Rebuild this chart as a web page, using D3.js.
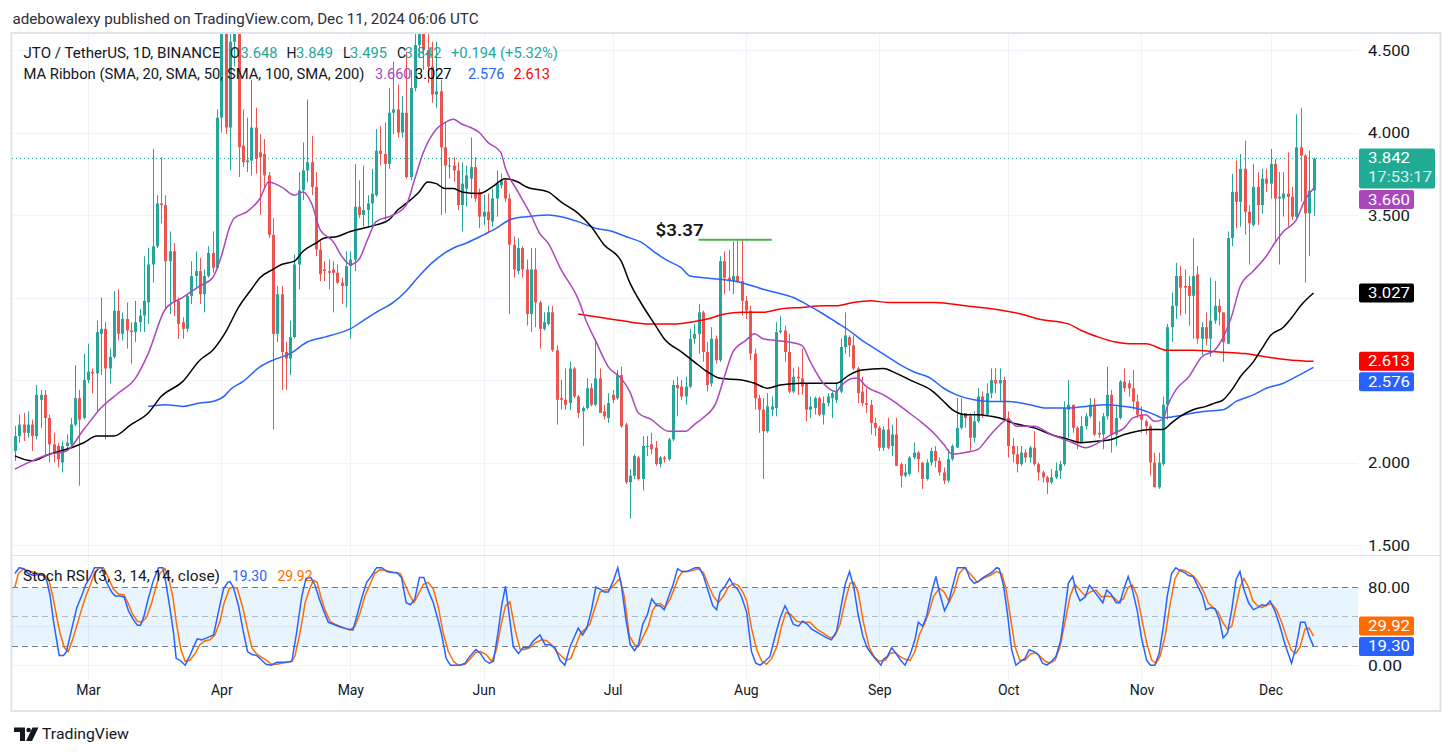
<!DOCTYPE html>
<html><head><meta charset="utf-8">
<script src="https://cdn.jsdelivr.net/npm/d3@7"></script>
<style>body{margin:0;background:#fff}svg{display:block}text{font-family:Roboto,"Noto Sans",sans-serif}</style>
</head><body><svg id="c" width="1453" height="756"></svg>
<script>
// ---------------- DATA ----------------
const startDate = "2024-02-13";
const opens = [
2.07,2.16,2.23,2.18,2.23,2.16,2.38,2.41,2.27,2.11,
2.10,2.00,2.10,2.11,2.23,2.39,2.27,2.50,2.55,2.54,
2.78,2.81,2.57,2.64,2.92,2.78,2.87,2.80,2.79,2.85,
2.89,2.97,3.20,3.31,3.57,3.56,3.22,3.28,2.98,2.85,
2.81,3.01,3.13,3.16,3.02,3.13,3.27,3.18,4.09,4.62,
4.03,4.55,4.66,3.92,3.82,3.83,4.03,3.88,3.87,3.74,
3.38,2.78,3.02,2.67,2.63,2.76,3.20,3.65,3.77,3.82,
3.67,3.29,3.17,3.16,3.17,3.15,3.09,3.07,3.19,3.23,
3.55,3.50,3.53,3.57,3.62,3.89,3.87,3.81,4.12,4.14,
4.00,4.12,3.73,4.27,4.53,4.62,4.50,4.40,4.23,4.25,
3.91,3.80,3.80,3.77,3.56,3.66,3.72,3.79,3.64,3.49,
3.52,3.46,3.60,3.68,3.71,3.60,3.32,3.16,3.30,3.17,
2.90,3.17,2.97,2.81,2.84,2.91,2.68,2.39,2.38,2.36,
2.57,2.40,2.31,2.33,2.45,2.35,2.51,2.31,2.27,2.41,
2.39,2.53,2.23,1.88,1.92,2.03,1.90,2.10,2.11,2.09,
1.99,2.03,2.02,2.14,2.47,2.46,2.40,2.46,2.75,2.78,
2.91,2.67,2.48,2.75,2.62,3.22,3.12,3.10,3.13,3.10,
2.98,2.92,2.66,2.39,2.32,2.19,2.32,2.33,2.79,2.80,
2.67,2.43,2.52,2.51,2.48,2.32,2.33,2.39,2.29,2.36,
2.39,2.38,2.43,2.70,2.76,2.71,2.57,2.43,2.36,2.35,
2.24,2.21,2.09,2.20,2.10,2.17,1.99,1.92,1.93,2.03,
2.06,2.00,1.90,2.00,2.07,2.01,1.94,1.89,2.02,2.09,
2.21,2.30,2.28,2.15,2.25,2.40,2.29,2.42,2.50,2.48,
2.50,2.27,2.10,2.05,1.99,2.06,2.03,2.09,1.99,1.94,
1.91,1.88,1.91,1.95,1.99,2.32,2.35,2.21,2.12,2.22,
2.28,2.35,2.18,2.17,2.28,2.41,2.17,2.27,2.49,2.48,
2.45,2.37,2.29,2.25,2.22,2.00,1.85,1.99,2.35,2.82,
2.95,3.13,3.07,3.07,3.01,3.14,2.75,2.82,2.75,2.86,
2.95,2.91,2.72,3.36,3.64,3.58,3.78,3.52,3.44,3.67,
3.56,3.72,3.69,3.81,3.60,3.60,3.63,3.61,3.49,3.91,
3.86,3.51,3.648];
const highs = [
2.22,2.29,2.30,2.31,2.26,2.47,2.44,2.44,2.29,2.18,
2.12,2.13,2.17,2.27,2.59,2.44,2.66,2.72,2.57,2.86,
3.00,2.85,2.69,3.04,3.05,2.91,2.97,2.85,2.98,2.93,
3.25,3.30,3.90,3.62,3.85,3.62,3.40,3.33,3.00,2.88,
3.02,3.22,3.28,3.24,3.17,3.31,3.40,4.14,4.80,4.75,
4.70,4.75,4.72,4.14,4.09,4.32,4.15,3.99,3.96,3.76,
3.48,3.07,3.07,2.73,2.86,3.26,3.76,3.94,4.20,3.98,
3.76,3.34,3.22,3.23,3.22,3.20,3.12,3.28,3.28,3.81,
3.71,3.80,3.62,3.78,4.02,4.04,4.06,4.27,4.43,4.29,
4.22,4.49,4.38,4.70,4.75,4.70,4.60,4.55,4.55,4.32,
4.06,3.85,3.85,3.82,3.82,3.80,3.97,3.85,3.66,3.62,
3.63,3.66,3.77,3.75,3.72,3.63,3.37,3.36,3.31,3.23,
3.30,3.30,2.98,2.91,2.95,2.95,2.71,2.50,2.57,2.61,
2.58,2.41,2.34,2.51,2.48,2.75,2.57,2.35,2.42,2.44,
2.56,2.58,2.24,1.96,2.05,2.04,2.16,2.16,2.18,2.13,
2.04,2.04,2.15,2.50,2.52,2.50,2.52,2.81,2.84,2.96,
2.92,2.73,2.82,2.77,3.25,3.28,3.29,3.34,3.35,3.35,
3.01,2.95,2.69,2.41,2.39,2.42,2.40,2.85,2.89,2.83,
2.78,2.57,2.58,2.69,2.48,2.40,2.40,2.40,2.40,2.42,
2.43,2.48,2.75,2.91,2.77,2.77,2.58,2.52,2.45,2.38,
2.27,2.22,2.22,2.27,2.23,2.27,2.00,1.99,2.04,2.12,
2.07,2.00,2.02,2.09,2.10,2.03,1.97,2.08,2.11,2.39,
2.39,2.30,2.30,2.31,2.45,2.43,2.48,2.57,2.57,2.57,
2.52,2.31,2.15,2.10,2.10,2.08,2.10,2.19,2.00,1.95,
1.92,1.96,2.00,2.01,2.37,2.50,2.35,2.22,2.28,2.30,
2.39,2.39,2.25,2.30,2.58,2.44,2.34,2.50,2.57,2.50,
2.56,2.41,2.34,2.26,2.23,2.06,2.06,2.40,2.84,3.03,
3.21,3.19,3.17,3.13,3.36,3.19,2.85,2.91,3.12,3.10,
2.99,2.91,3.40,3.75,3.83,3.87,3.95,3.56,3.81,3.76,
3.78,3.78,3.90,3.84,3.76,3.76,3.88,3.67,4.11,4.15,
3.87,3.89,3.849];
const lows = [
2.01,2.12,2.13,2.15,2.07,2.14,2.21,2.04,2.00,2.00,
1.97,1.94,2.08,2.10,2.22,1.86,2.26,2.48,2.42,2.31,
2.53,2.14,2.48,2.63,2.74,2.74,2.69,2.60,2.73,2.79,
2.79,2.84,3.09,3.30,3.45,2.92,2.90,2.89,2.75,2.75,
2.79,2.96,3.05,2.96,2.91,3.12,3.15,3.17,4.00,3.99,
3.77,4.40,3.73,3.79,3.76,3.74,3.75,3.50,3.67,3.36,
2.20,2.73,2.44,2.44,2.53,2.75,3.05,3.59,3.70,3.62,
3.25,3.10,3.10,3.05,2.91,3.08,2.96,2.94,2.75,3.16,
3.48,3.43,3.43,3.43,3.61,3.80,3.47,3.78,3.99,3.97,
3.97,3.72,3.71,4.25,4.45,4.38,4.30,4.18,4.15,3.50,
3.51,3.72,3.70,3.53,3.40,3.55,3.60,3.58,3.42,3.44,
3.39,3.43,3.49,3.66,3.58,2.90,3.12,3.14,3.12,2.83,
2.79,2.82,2.69,2.80,2.83,2.67,2.23,2.32,2.32,2.32,
2.39,2.27,2.10,2.32,2.34,2.34,2.30,2.26,2.24,2.36,
2.38,2.21,1.87,1.66,1.90,1.89,1.83,2.04,2.05,1.98,
1.97,2.00,2.01,2.13,2.28,2.38,2.35,2.45,2.72,2.66,
2.61,2.43,2.46,2.60,2.61,3.02,3.04,3.02,3.09,2.89,
2.87,2.62,2.32,2.18,1.90,2.18,2.28,2.28,2.78,2.61,
2.42,2.42,2.41,2.41,2.25,2.27,2.29,2.28,2.23,2.34,
2.27,2.36,2.42,2.66,2.64,2.56,2.36,2.34,2.30,2.17,
2.16,2.07,2.07,2.08,2.04,1.98,1.85,1.91,1.92,2.02,
1.94,1.84,1.89,1.98,1.97,1.92,1.87,1.88,2.01,2.09,
2.20,2.21,2.07,2.12,2.24,2.27,2.28,2.39,2.42,2.37,
2.25,2.03,2.00,1.94,1.98,2.00,2.00,1.98,1.89,1.88,
1.81,1.87,1.90,1.90,1.98,2.15,2.18,2.08,2.12,2.20,
2.27,2.16,2.15,2.08,2.26,2.06,2.10,2.26,2.43,2.40,
2.32,2.27,2.18,2.17,1.92,1.85,1.84,1.98,2.26,2.73,
2.87,2.89,2.90,2.83,2.75,2.72,2.65,2.71,2.64,2.84,
2.83,2.61,2.72,3.31,3.42,3.43,3.38,3.20,3.43,3.44,
3.51,3.64,3.60,3.34,3.20,3.49,3.43,3.47,3.48,3.58,
3.09,3.25,3.495];
const closes = [
2.16,2.23,2.18,2.23,2.16,2.41,2.41,2.27,2.11,2.06,
2.02,2.10,2.12,2.23,2.39,2.26,2.50,2.55,2.54,2.79,
2.81,2.57,2.64,2.92,2.78,2.87,2.80,2.79,2.85,2.89,
2.98,3.20,3.31,3.57,3.56,3.22,3.28,2.98,2.84,2.81,
3.01,3.13,3.16,3.02,3.13,3.27,3.18,4.09,4.62,4.03,
4.55,4.66,3.91,3.82,3.83,4.03,3.84,3.85,3.74,3.38,
2.78,3.02,2.67,2.63,2.76,3.20,3.65,3.77,3.82,3.67,
3.29,3.14,3.16,3.15,3.15,3.09,3.07,3.19,3.23,3.55,
3.50,3.53,3.57,3.63,3.89,3.87,3.81,4.12,4.14,4.00,
4.12,3.73,4.27,4.53,4.62,4.50,4.40,4.23,4.25,3.91,
3.80,3.80,3.77,3.56,3.69,3.74,3.79,3.60,3.49,3.52,
3.47,3.60,3.69,3.71,3.60,3.32,3.17,3.30,3.17,2.90,
3.17,2.97,2.81,2.85,2.91,2.68,2.38,2.38,2.35,2.57,
2.40,2.30,2.33,2.45,2.35,2.51,2.30,2.28,2.36,2.38,
2.53,2.22,1.88,1.92,2.04,1.90,2.10,2.10,2.08,1.99,
2.03,2.02,2.14,2.47,2.45,2.40,2.46,2.75,2.78,2.91,
2.67,2.47,2.75,2.62,3.22,3.12,3.10,3.13,3.10,2.98,
2.92,2.66,2.39,2.32,2.19,2.34,2.34,2.79,2.80,2.67,
2.43,2.52,2.51,2.46,2.32,2.34,2.39,2.29,2.36,2.40,
2.42,2.43,2.70,2.77,2.71,2.57,2.42,2.36,2.35,2.24,
2.21,2.09,2.20,2.09,2.17,1.98,1.92,1.94,2.03,2.06,
2.02,1.90,2.00,2.07,2.01,1.94,1.89,2.02,2.10,2.21,
2.30,2.27,2.15,2.25,2.40,2.29,2.42,2.50,2.48,2.50,
2.26,2.10,2.05,1.99,2.06,2.03,2.09,1.99,1.94,1.91,
1.88,1.91,1.95,1.99,2.33,2.35,2.21,2.12,2.22,2.28,
2.35,2.17,2.17,2.28,2.41,2.17,2.27,2.49,2.45,2.45,
2.37,2.29,2.26,2.22,2.00,1.85,2.00,2.35,2.82,2.95,
3.13,3.06,3.06,3.01,3.13,2.75,2.82,2.75,2.86,2.95,
2.91,2.73,3.36,3.64,3.58,3.78,3.52,3.45,3.67,3.56,
3.72,3.69,3.81,3.60,3.61,3.63,3.61,3.49,3.91,3.86,
3.51,3.648,3.842];

// moving averages: [day index from startDate, value]
const sma20 = [[0,1.96],[4,2.01],[8,2.05],[12,2.07],[16,2.20],[20,2.33],[24,2.42],[28,2.51],[31,2.66],[35,2.93],[39,3.00],[43,3.07],[46,3.12],[48,3.25],[50,3.43],[51,3.48],[54,3.52],[57,3.60],[59,3.70],[62,3.67],[65,3.62],[67,3.64],[69,3.57],[71,3.41],[74,3.34],[76,3.25],[78,3.20],[80,3.23],[82,3.35],[84,3.46],[88,3.50],[91,3.56],[93,3.72],[95,3.88],[98,4.02],[100,4.06],[102,4.08],[104,4.05],[106,4.03],[108,4.00],[110,3.94],[113,3.88],[114,3.79],[117,3.64],[120,3.50],[122,3.39],[124,3.33],[127,3.17],[131,2.99],[133,2.85],[135,2.74],[138,2.58],[141,2.51],[143,2.43],[145,2.30],[148,2.26],[152,2.19],[156,2.19],[158,2.23],[160,2.27],[163,2.36],[165,2.52],[167,2.67],[170,2.74],[172,2.78],[174,2.75],[177,2.74],[180,2.73],[183,2.71],[185,2.61],[188,2.48],[191,2.43],[192,2.46],[195,2.51],[196,2.51],[198,2.46],[202,2.41],[205,2.36],[208,2.30],[211,2.24],[214,2.17],[216,2.11],[218,2.05],[221,2.06],[224,2.08],[226,2.14],[228,2.20],[231,2.26],[233,2.22],[237,2.22],[241,2.17],[244,2.14],[246,2.12],[249,2.09],[252,2.12],[255,2.17],[258,2.21],[260,2.27],[263,2.29],[265,2.25],[267,2.26],[268,2.34],[270,2.44],[273,2.52],[276,2.64],[279,2.68],[281,2.76],[283,2.89],[285,3.07],[288,3.16],[291,3.25],[293,3.33],[295,3.40],[298,3.47],[300,3.59],[302,3.66]];
const sma50 = [[0,2.04],[4,2.01],[8,2.05],[12,2.08],[16,2.12],[19,2.16],[23,2.16],[27,2.23],[31,2.30],[34,2.40],[39,2.49],[43,2.62],[46,2.68],[49,2.79],[52,2.94],[55,3.05],[57,3.12],[60,3.17],[62,3.20],[65,3.22],[67,3.28],[70,3.33],[72,3.36],[75,3.37],[78,3.40],[81,3.42],[84,3.44],[87,3.47],[89,3.53],[91,3.57],[94,3.64],[96,3.70],[98,3.69],[100,3.66],[102,3.66],[104,3.64],[108,3.63],[111,3.67],[114,3.72],[117,3.70],[119,3.67],[124,3.64],[127,3.58],[131,3.51],[134,3.43],[137,3.32],[141,3.22],[143,3.09],[146,2.95],[149,2.83],[151,2.75],[155,2.67],[158,2.61],[161,2.55],[164,2.51],[169,2.50],[172,2.48],[175,2.45],[178,2.47],[183,2.48],[188,2.48],[191,2.48],[194,2.53],[197,2.56],[202,2.57],[205,2.54],[209,2.49],[213,2.44],[216,2.37],[218,2.32],[221,2.29],[224,2.29],[227,2.28],[229,2.27],[232,2.24],[237,2.21],[241,2.17],[245,2.14],[248,2.12],[252,2.13],[255,2.14],[258,2.17],[261,2.19],[264,2.20],[267,2.20],[269,2.24],[271,2.28],[274,2.32],[277,2.34],[279,2.36],[281,2.38],[283,2.44],[285,2.52],[288,2.61],[290,2.69],[292,2.77],[295,2.82],[297,2.88],[299,2.95],[302,3.027]];
const sma100 = [[31,2.34],[35,2.35],[39,2.34],[43,2.36],[46,2.37],[49,2.41],[50,2.44],[53,2.49],[57,2.58],[60,2.62],[64,2.66],[68,2.73],[72,2.76],[76,2.79],[78,2.81],[81,2.86],[84,2.91],[88,2.97],[91,3.04],[94,3.13],[97,3.21],[100,3.27],[102,3.30],[105,3.33],[109,3.38],[112,3.42],[115,3.47],[119,3.49],[124,3.50],[127,3.49],[131,3.46],[135,3.42],[139,3.40],[142,3.37],[146,3.33],[149,3.27],[152,3.22],[155,3.18],[157,3.13],[160,3.12],[164,3.11],[169,3.09],[174,3.05],[177,3.03],[181,3.00],[184,2.96],[188,2.90],[191,2.85],[194,2.80],[197,2.74],[200,2.69],[203,2.64],[206,2.59],[209,2.55],[213,2.51],[216,2.45],[219,2.41],[223,2.38],[227,2.37],[231,2.37],[236,2.35],[240,2.33],[245,2.33],[249,2.34],[254,2.35],[258,2.34],[262,2.32],[265,2.29],[267,2.27],[270,2.28],[274,2.30],[277,2.31],[281,2.32],[284,2.37],[288,2.41],[291,2.45],[295,2.48],[298,2.52],[302,2.576]];
const sma200 = [[131,2.90],[136,2.88],[141,2.86],[147,2.84],[154,2.84],[157,2.85],[161,2.87],[165,2.90],[169,2.91],[174,2.91],[178,2.93],[183,2.94],[188,2.95],[191,2.95],[195,2.97],[199,2.98],[203,2.97],[206,2.97],[214,2.97],[221,2.95],[230,2.92],[234,2.90],[238,2.87],[245,2.84],[248,2.80],[252,2.76],[256,2.73],[259,2.72],[263,2.72],[268,2.68],[274,2.68],[280,2.67],[286,2.66],[291,2.64],[297,2.62],[302,2.613]];

// Stoch RSI %K and %D: [day index, value]
const stochK = [[0,94],[1,100],[2,99],[3.1,94],[4.3,92],[5.5,93],[6.6,92],[7.4,87],[8.2,71],[8.9,47],[9.7,26],[10.3,10],[11.3,10],[12,14],[13.2,37],[14.4,59],[15.5,71],[16.5,83],[17.5,90],[18.5,100],[19.4,100],[20.2,100],[21.3,85],[22.5,75],[23.3,71],[24.4,71],[25.4,70],[26.4,56],[27.5,47],[28.5,41],[29.2,41],[30,50],[31,68],[32.2,87],[33.4,100],[34.4,100],[35.1,85],[36.1,57],[36.9,33],[37.5,7],[38.4,5],[39.6,0],[40.6,9],[41.5,18],[42.4,27],[43.4,26],[44.6,28],[46.2,31],[47.3,54],[48.5,78],[49.5,85],[50,86],[50.8,80],[52,61],[53,37],[54.1,14],[55.1,11],[56.2,10],[57.4,5],[58.4,1],[59.7,0],[60.9,3],[62,3],[63.2,3],[64.4,4],[65.5,33],[66.7,70],[67.7,89],[68.8,90],[69.8,82],[70.8,68],[71.7,57],[72.9,44],[74.1,42],[75.2,40],[76.4,38],[77.5,37],[78.6,36],[79.5,50],[80.6,68],[81.8,85],[83,92],[84.1,100],[85.3,100],[86.5,96],[87.6,95],[88.8,95],[89.9,90],[91,64],[92,62],[93,68],[94.1,90],[95.1,90],[96.1,77],[97.3,64],[98.5,45],[99.3,30],[100.3,7],[101.3,0],[102.4,0],[103.5,0],[104.7,2],[105.8,9],[107.2,16],[108.3,12],[109.3,5],[110.3,2],[111.3,4],[112.4,35],[113.2,61],[114.1,81],[115,50],[115.9,19],[117.1,12],[118.2,18],[119.4,18],[120.6,25],[122.1,31],[123.3,21],[124.4,21],[125.6,18],[126.8,5],[127.9,0],[129.1,19],[130.3,31],[131,38],[132,31],[133,38],[134.1,57],[135.1,80],[136.1,78],[137,75],[138,75],[139.2,87],[140.2,100],[141.1,80],[142.1,47],[143.1,21],[144.1,15],[145,21],[146,42],[147.1,52],[148.1,68],[149.3,61],[150,61],[151,57],[152,70],[153.1,83],[154.1,99],[155.1,96],[156.2,96],[157.2,98],[158.2,100],[159.2,100],[160.1,92],[161.3,75],[162.3,61],[163.2,57],[164,75],[165,80],[166.2,89],[167.1,82],[168.1,78],[169,70],[170.2,54],[171.3,14],[172.3,2],[173.3,0],[174.4,4],[175.6,9],[176.8,30],[178,49],[179.1,61],[180.1,52],[181,42],[182.2,40],[183.2,45],[184.3,42],[185.3,37],[186.5,34],[187.6,31],[188.8,28],[189.9,26],[191.1,35],[192,57],[193.1,83],[194.1,96],[195.1,80],[196.1,52],[197.2,30],[198.2,18],[199.3,11],[200.4,5],[201.4,0],[202,6],[202.9,9],[203.9,18],[204.9,12],[206,5],[207,0],[208.2,11],[209.3,26],[210.1,44],[211.1,40],[212,50],[213.2,75],[214.2,91],[215.1,73],[216.2,56],[217.1,64],[218.2,83],[219.2,100],[220.2,100],[221.1,100],[222.1,89],[223.1,84],[224.1,86],[225.2,90],[226.4,93],[227.4,96],[228.3,100],[228.9,99],[229.9,82],[230.8,54],[231.8,16],[232.8,0],[233.9,4],[234.9,7],[235.9,16],[237,14],[238,11],[239,2],[240,0],[241.1,4],[242.1,9],[243.2,25],[244.2,57],[245,84],[246,91],[246.8,75],[247.7,66],[248.9,70],[249.9,82],[250.8,77],[252,70],[253,64],[253.9,77],[254.9,73],[256.1,64],[257,64],[257.9,78],[258.9,91],[259.9,77],[261,56],[262,28],[263.2,5],[264.1,0],[265.1,0],[266.1,12],[267.1,40],[268,71],[269,94],[270,100],[270.9,97],[272.1,95],[272.9,92],[274,91],[275.2,80],[276.2,71],[277,57],[278.1,59],[279.1,58],[280.1,47],[281,28],[282,33],[283,57],[284,88],[284.9,96],[285.8,78],[286.9,64],[288,57],[289,59],[290,62],[291,61],[291.9,66],[293,56],[294.2,40],[295.4,21],[296.9,2],[297.9,18],[299,44],[300,44],[301,30],[302,19.30]];
const stochD = [[0,80],[0.8,94],[2,99],[3.1,97],[4.3,95],[5.5,94],[6.6,93],[7.8,89],[8.8,71],[9.7,50],[10.5,33],[11.5,18],[12.4,14],[13.4,26],[14.5,42],[15.5,57],[16.5,71],[17.6,83],[18.6,96],[19.8,100],[20.6,100],[21.7,90],[22.9,78],[24.1,73],[25.4,72],[26.4,63],[27.4,52],[28.5,45],[29.5,44],[30.6,49],[31.8,64],[32.8,80],[33.7,94],[34.9,99],[35.7,90],[36.7,71],[37.6,42],[38.6,16],[39.6,4],[40.7,5],[41.9,12],[43,21],[44.2,25],[45.4,26],[46.5,31],[47.7,45],[48.6,63],[49.9,79],[50.8,80],[51.7,79],[53,59],[54.1,37],[55.1,18],[56.1,12],[57.4,8],[58.5,5],[59.7,1],[60.9,1],[62,2],[63.2,3],[64.4,4],[65.1,9],[66.3,33],[67.5,64],[68.5,78],[69.4,87],[70.3,85],[71.1,71],[72.1,57],[73.3,45],[74.4,42],[75.6,40],[76.8,38],[77.9,36],[79.1,40],[80.3,54],[81.4,71],[82.6,83],[83.7,94],[84.9,98],[86.5,97],[88,95],[89.6,94],[90.7,83],[91.9,71],[92.8,64],[94.1,75],[95,83],[96.1,85],[97.3,78],[98.5,59],[99.6,33],[100.8,14],[102,4],[103.1,0],[104.7,1],[105.8,6],[107.2,13],[108.3,14],[109.6,11],[110.9,4],[112,16],[113,40],[114.1,61],[115.1,65],[116.3,37],[117.5,16],[118.6,16],[119.8,18],[121,23],[122.5,26],[123.7,25],[124.8,21],[126,14],[127.2,9],[128.2,5],[129.3,7],[130.5,21],[131.6,33],[132.6,37],[133.7,42],[134.9,59],[136.1,75],[137.2,77],[138.4,78],[139.5,83],[140.7,89],[141.7,71],[142.9,30],[144.1,21],[145,19],[146.2,30],[147.3,40],[148.3,56],[149.3,63],[150.2,63],[151.2,59],[152.4,68],[153.3,78],[154.3,90],[155.3,96],[156.4,96],[157.6,97],[158.9,99],[160.1,95],[161.3,82],[162.4,71],[163.6,64],[164.8,71],[165.9,80],[167.1,84],[168.2,82],[169.3,75],[170.2,66],[171.3,38],[172.5,16],[173.7,4],[174.8,1],[176,7],[177.2,19],[178.3,40],[179.3,54],[180.4,52],[181.8,45],[183.4,44],[184.9,44],[186.5,37],[188,33],[189.6,28],[190.7,30],[191.9,42],[193,64],[194.2,84],[195.1,85],[196.1,75],[197.3,45],[198.7,18],[199.8,9],[201,4],[202.4,5],[203.5,12],[204.7,13],[205.8,9],[207,6],[208.2,5],[209.3,14],[210.3,31],[211.7,44],[212.7,56],[213.6,70],[215,79],[216.1,75],[217.3,65],[218.4,75],[219.6,94],[220.8,100],[222.1,94],[223.8,85],[225.2,89],[226.8,92],[228.3,96],[229.5,94],[230.5,78],[231.6,47],[232.6,19],[233.7,5],[234.9,5],[236.1,11],[237.2,13],[238.4,9],[239.6,4],[240.7,2],[241.9,5],[243,18],[244.2,44],[245.4,71],[246.5,83],[247.7,77],[248.9,71],[250,75],[251.4,77],[252.7,70],[253.9,71],[255.4,70],[256.6,65],[257.8,68],[258.9,80],[259.9,82],[261,71],[262,49],[263.2,23],[264.4,5],[265.4,2],[266.3,9],[267.5,30],[268.6,61],[269.8,89],[271,98],[272.1,97],[273.3,94],[274.4,90],[275.4,84],[276.5,75],[277.5,64],[278.7,59],[279.9,54],[280.9,44],[282,37],[283,40],[284,61],[284.9,80],[285.8,89],[286.9,80],[287.9,66],[289,61],[290,59],[291.1,62],[292.3,63],[293.4,57],[294.6,44],[295.8,28],[296.9,15],[297.9,12],[298.9,19],[300,37],[301,38],[302,29.92]];

const priceTicks = [1.5, 2.0, 2.5, 3.0, 3.5, 4.0, 4.5];
const rsiTicks = [0, 80];
const rsiGrid = [0, 40];
const rsiBands = [80, 50, 20];
const maLast = [3.660, 3.027, 2.576, 2.613];
const lastPrice = 3.842;
const countdown = "17:53:17";
const ohlcLabels = ["O", "H", "L", "C"];
const ohlcValues = ["3.648", "3.849", "3.495", "3.842"];
const changeText = "+0.194 (+5.32%)";
const stochLast = [19.30, 29.92];
const annotation = {text: "$3.37", price: 3.35, from: 159, to: 176};

// ---------------- DRAW ----------------
const svg = d3.select("#c");
const DAY = 86400000;
const t0 = new Date(startDate + "T00:00:00Z");
const dayAt = i => new Date(t0.getTime() + i * DAY);
const N = closes.length;
const candles = closes.map((c, i) => ({date: dayAt(i), o: opens[i], h: highs[i], l: lows[i], c}));

const PL = 12, PR = 1358, PT = 34, PB = 554, RT = 556, RB = 680;
const x = d3.scaleUtc().domain([dayAt(0), dayAt(N - 1)]).range([14.9, 1313.5]);
const y = d3.scaleLinear().domain([1.5, 4.5]).range([545, 50]);
const yr = d3.scaleLinear().domain([0, 100]).range([665.2, 567.7]);

const UP = "#26a69a", DN = "#ef5350", TXT = "#131722", GRID = "#f0f3fa", BORDER = "#e0e3eb";
const MAC = ["#ab47bc", "#000000", "#2962ff", "#ff0000"];
const KC = "#2962ff", DC = "#ff6d00";

const defs = svg.append("defs");
defs.append("clipPath").attr("id", "clipP").append("rect").attr("x", PL).attr("y", PT).attr("width", PR - PL).attr("height", PB - PT);
defs.append("clipPath").attr("id", "clipR").append("rect").attr("x", PL).attr("y", RT).attr("width", PR - PL).attr("height", RB - RT);

function txt(g, xx, yy, s, o = {}) {
  const t = g.append("text").attr("x", xx).attr("y", yy).text(s)
    .attr("font-size", o.size || 14).attr("fill", o.fill || TXT)
    .attr("dominant-baseline", "central").attr("text-anchor", o.anchor || "start");
  if (o.weight) t.attr("font-weight", o.weight);
  if (o.len) t.attr("textLength", o.len).attr("lengthAdjust", "spacingAndGlyphs");
  return t;
}

// right-side value labels (computed first so covered axis ticks can be hidden, like TradingView)
function placeLabels(items, dir) {
  items.sort((a, b) => a.c - b.c);
  items.forEach(it => { it.top = it.c - it.off; });
  if (dir > 0) {
    for (let i = 1; i < items.length; i++) {
      const p = items[i - 1];
      if (items[i].top < p.top + p.h + 1.5) items[i].top = p.top + p.h + 1.5;
    }
  } else {
    for (let i = items.length - 2; i >= 0; i--) {
      const n = items[i + 1];
      if (items[i].top + items[i].h > n.top - 1.5) items[i].top = n.top - 1.5 - items[i].h;
    }
  }
  return items;
}
const priceLabels = placeLabels([
  {c: y(lastPrice), off: 10, h: 40, w: 76, fill: "#22ab94", lines: [d3.format(".3f")(lastPrice), countdown]},
  ...maLast.map((v, i) => ({c: y(v), off: 9.5, h: 19, w: 55, fill: MAC[i], lines: [d3.format(".3f")(v)]}))
], 1);
const rsiLabels = placeLabels([
  {c: yr(stochLast[0]), off: 9.5, h: 19, w: 55, fill: KC, lines: [d3.format(".2f")(stochLast[0])]},
  {c: yr(stochLast[1]), off: 9.5, h: 19, w: 55, fill: DC, lines: [d3.format(".2f")(stochLast[1])]}
], -1);
const covered = (py, labs) => labs.some(l => py > l.top - 3 && py < l.top + l.h + 3);
const shownPriceTicks = priceTicks.filter(t => !covered(y(t), priceLabels));
const shownRsiTicks = rsiTicks.filter(t => !covered(yr(t), rsiLabels));

// header
txt(svg, 12.5, 19, "adebowalexy published on TradingView.com, Dec 11, 2024 06:06 UTC", {size: 14, fill: "#2a2e39", len: 466});

// frame
svg.append("rect").attr("x", 11.5).attr("y", 33).attr("width", 1429).attr("height", 678).attr("fill", "none").attr("stroke", BORDER).attr("stroke-width", 2);

// grids
const months = x.ticks(d3.utcMonth.every(1));
svg.append("g").selectAll("line").data(months).join("line")
  .attr("x1", d => Math.round(x(d)) + 0.5).attr("x2", d => Math.round(x(d)) + 0.5)
  .attr("y1", PT).attr("y2", RB).attr("stroke", GRID);
svg.append("g").selectAll("line").data(priceTicks).join("line")
  .attr("x1", PL).attr("x2", PR).attr("y1", d => Math.round(y(d)) + 0.5).attr("y2", d => Math.round(y(d)) + 0.5).attr("stroke", GRID);
svg.append("g").selectAll("line").data(rsiGrid).join("line")
  .attr("x1", PL).attr("x2", PR).attr("y1", d => Math.round(yr(d)) + 0.5).attr("y2", d => Math.round(yr(d)) + 0.5).attr("stroke", GRID);

// pane separator
svg.append("line").attr("x1", PL).attr("x2", 1440).attr("y1", 555.5).attr("y2", 555.5).attr("stroke", BORDER);

// RSI band
svg.append("rect").attr("x", PL).attr("width", PR - PL).attr("y", yr(80)).attr("height", yr(20) - yr(80)).attr("fill", "rgba(33,150,243,0.1)");
svg.append("g").selectAll("line").data(rsiBands).join("line")
  .attr("x1", PL).attr("x2", PR).attr("y1", d => Math.round(yr(d)) + 0.5).attr("y2", d => Math.round(yr(d)) + 0.5)
  .attr("stroke", d => d === 50 ? "rgba(120,123,134,0.5)" : "#787b86").attr("stroke-dasharray", "6,4");

// current price dotted line
svg.append("line").attr("x1", PL).attr("x2", PR).attr("y1", y(lastPrice)).attr("y2", y(lastPrice))
  .attr("stroke", UP).attr("stroke-dasharray", "1,3");

// candles
const cg = svg.append("g").attr("clip-path", "url(#clipP)");
const cx = d => Math.round(x(d.date));
const col = d => d.c >= d.o ? UP : DN;
cg.append("g").selectAll("line").data(candles).join("line")
  .attr("x1", d => cx(d) + 0.5).attr("x2", d => cx(d) + 0.5)
  .attr("y1", d => y(Math.max(d.h, d.o, d.c))).attr("y2", d => y(Math.min(d.l, d.o, d.c)))
  .attr("stroke", col).attr("stroke-width", 1);
cg.append("g").selectAll("rect").data(candles).join("rect")
  .attr("x", d => cx(d) - 1).attr("width", 3)
  .attr("y", d => y(Math.max(d.o, d.c)))
  .attr("height", d => Math.max(1, y(Math.min(d.o, d.c)) - y(Math.max(d.o, d.c))))
  .attr("fill", col);

// MA lines
const maLine = d3.line().x(d => x(dayAt(d[0]))).y(d => y(d[1])).curve(d3.curveMonotoneX);
[sma200, sma100, sma50, sma20].forEach((s, k) => {
  cg.append("path").attr("d", maLine(s)).attr("fill", "none").attr("stroke", MAC[3 - k]).attr("stroke-width", 1.5);
});

// annotation
const ay = y(annotation.price);
svg.append("line").attr("x1", x(dayAt(annotation.from))).attr("x2", x(dayAt(annotation.to)))
  .attr("y1", ay).attr("y2", ay).attr("stroke", "#4caf50").attr("stroke-width", 2);
svg.append("text").attr("x", x(dayAt(annotation.from)) + 5).attr("y", ay - 4).attr("text-anchor", "end")
  .attr("font-size", 17).attr("font-weight", 600).attr("fill", TXT).attr("textLength", 48).attr("lengthAdjust", "spacingAndGlyphs")
  .text(annotation.text);

// stoch RSI lines
const rg = svg.append("g").attr("clip-path", "url(#clipR)");
const rLine = d3.line().x(d => x(dayAt(d[0]))).y(d => yr(d[1]));
rg.append("path").attr("d", rLine(stochD)).attr("fill", "none").attr("stroke", DC).attr("stroke-width", 1.5);
rg.append("path").attr("d", rLine(stochK)).attr("fill", "none").attr("stroke", KC).attr("stroke-width", 1.5);

// legends
const lg = svg.append("g");
txt(lg, 23.5, 53, "JTO / TetherUS, 1D, BINANCE", {len: 197});
const ohlcX = [[230, 240.5], [286.5, 296], [343, 350], [397, 404.5]];
ohlcLabels.forEach((l, i) => {
  txt(lg, ohlcX[i][0], 53, l);
  txt(lg, ohlcX[i][1], 53, ohlcValues[i], {fill: UP, len: 37});
});
txt(lg, 451, 53, changeText, {fill: UP, len: 107});
txt(lg, 23.5, 74, "MA Ribbon (SMA, 20, SMA, 50, SMA, 100, SMA, 200)", {len: 341});
const maLegX = [375, 415, 468, 513.5];
maLast.forEach((v, i) => txt(lg, maLegX[i], 74, d3.format(".3f")(v), {fill: MAC[i], len: 36.5}));
txt(lg, 23, 576, "Stoch RSI (3, 3, 14, 14, close)", {len: 197});
txt(lg, 232, 576, d3.format(".2f")(stochLast[0]), {fill: KC, len: 35});
txt(lg, 277.5, 576, d3.format(".2f")(stochLast[1]), {fill: DC, len: 35});

// price axis
const ya = d3.axisRight(y).tickValues(shownPriceTicks).tickFormat(d3.format(".3f")).tickSize(0).tickPadding(0);
const yag = svg.append("g").attr("transform", "translate(1368,0)").call(ya);
yag.select(".domain").remove();
yag.selectAll("text").attr("font-size", 14).attr("fill", TXT).attr("font-family", "Roboto").attr("dy", null).attr("dominant-baseline", "central").attr("textLength", 42).attr("lengthAdjust", "spacingAndGlyphs");
const ra = d3.axisRight(yr).tickValues(shownRsiTicks).tickFormat(d3.format(".2f")).tickSize(0).tickPadding(0);
const rag = svg.append("g").attr("transform", "translate(1368,0)").call(ra);
rag.select(".domain").remove();
rag.selectAll("text").attr("font-size", 14).attr("fill", TXT).attr("font-family", "Roboto").attr("dy", null).attr("dominant-baseline", "central")
  .attr("textLength", d => d === 0 ? 34 : 42).attr("lengthAdjust", "spacingAndGlyphs");

// time axis
const xa = d3.axisBottom(x).ticks(d3.utcMonth.every(1)).tickFormat(d3.utcFormat("%b")).tickSize(0).tickPadding(0);
const xag = svg.append("g").attr("transform", "translate(0,690)").call(xa);
xag.select(".domain").remove();
xag.selectAll("text").attr("font-size", 14).attr("fill", TXT).attr("font-family", "Roboto").attr("dy", null).attr("dominant-baseline", "central");

// label boxes
const labG = svg.append("g");
[...priceLabels, ...rsiLabels].forEach(it => {
  labG.append("rect").attr("x", 1359).attr("y", it.top).attr("width", it.w).attr("height", it.h).attr("rx", 2).attr("fill", it.fill);
  it.lines.forEach((s, j) => {
    txt(labG, 1368, it.top + 9.5 + j * 19, s, {size: 14, fill: j ? "rgba(255,255,255,0.85)" : "#fff", len: s.length > 5 ? 64 : 42});
  });
});

// footer logo + brand
const fg = svg.append("g").attr("fill", TXT);
fg.append("path").attr("d", "M14,727.5 H25 V741 H20 V732 H14 Z");
fg.append("circle").attr("cx", 28.6).attr("cy", 730).attr("r", 2.3);
fg.append("path").attr("d", "M26,741 L32.5,727.5 H38.5 L32,741 Z");
txt(fg, 42, 734, "TradingView", {size: 15, fill: TXT, len: 87});
</script></body></html>
